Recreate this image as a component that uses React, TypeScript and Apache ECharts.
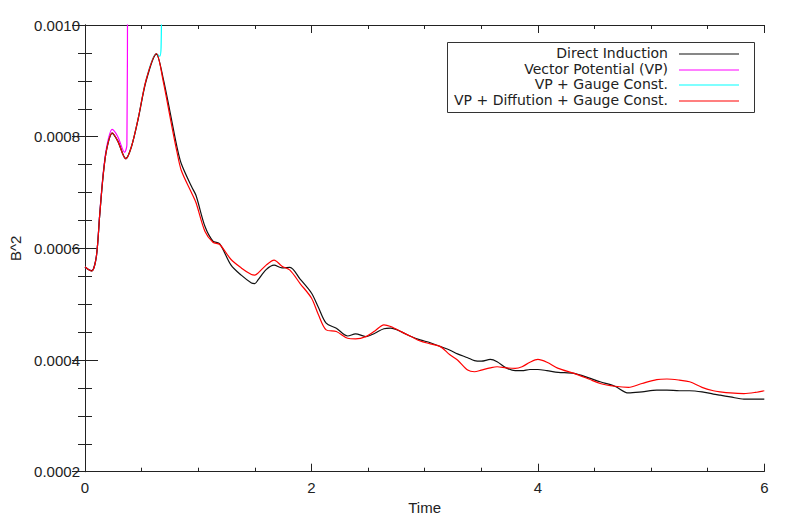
import React, { useEffect, useRef } from "react";
import * as echarts from "echarts";

const time = [0, 0.03, 0.06, 0.1, 0.13, 0.16, 0.19, 0.24, 0.29, 0.36, 0.41, 0.47, 0.54, 0.63, 0.69, 0.76, 0.81, 0.85, 0.94, 0.98, 1.06, 1.13, 1.19, 1.29, 1.38, 1.47, 1.5, 1.53, 1.6, 1.67, 1.74, 1.81, 1.9, 2.0, 2.06, 2.13, 2.22, 2.32, 2.39, 2.48, 2.56, 2.64, 2.7, 2.8, 2.88, 2.96, 3.05, 3.14, 3.22, 3.29, 3.38, 3.44, 3.5, 3.58, 3.64, 3.72, 3.8, 3.86, 3.93, 4.0, 4.08, 4.18, 4.32, 4.45, 4.55, 4.68, 4.8, 4.92, 5.05, 5.14, 5.25, 5.34, 5.45, 5.55, 5.61, 5.7, 5.82, 5.92, 6.0];

const directInduction = [0.000567, 0.000562, 0.00056, 0.000585, 0.00066, 0.00073, 0.000776, 0.000806, 0.000792, 0.000761, 0.000782, 0.000832, 0.0009, 0.000948, 0.000905, 0.000835, 0.000784, 0.000752, 0.000711, 0.000695, 0.000639, 0.000613, 0.000608, 0.00057, 0.000552, 0.000538, 0.000537, 0.000544, 0.000562, 0.00057, 0.000565, 0.000566, 0.000545, 0.00052, 0.000495, 0.000466, 0.000457, 0.000443, 0.000447, 0.000442, 0.000448, 0.000456, 0.000457, 0.00045, 0.000442, 0.000436, 0.000431, 0.000424, 0.000418, 0.000411, 0.000404, 0.000399, 0.000398, 0.000401, 0.000397, 0.000386, 0.000381, 0.000381, 0.000383, 0.000383, 0.000381, 0.000378, 0.000376, 0.000368, 0.000361, 0.000353, 0.000341, 0.000343, 0.000346, 0.000346, 0.000345, 0.000345, 0.000343, 0.000339, 0.000337, 0.000334, 0.00033, 0.00033, 0.00033];

const vpDiffGauge = [0.000567, 0.000562, 0.000559, 0.000585, 0.00066, 0.00073, 0.000776, 0.000807, 0.000792, 0.00076, 0.000782, 0.000833, 0.000902, 0.000949, 0.0009, 0.000826, 0.000775, 0.00074, 0.0007, 0.000682, 0.00063, 0.000611, 0.000607, 0.00058, 0.000565, 0.000553, 0.000552, 0.000556, 0.00057, 0.000579, 0.000568, 0.000561, 0.000537, 0.000511, 0.000482, 0.000454, 0.000451, 0.000439, 0.000438, 0.000442, 0.000452, 0.000463, 0.00046, 0.00045, 0.000442, 0.000434, 0.000429, 0.000424, 0.00041, 0.0004, 0.000382, 0.000379, 0.000382, 0.000386, 0.000388, 0.000386, 0.000385, 0.000388, 0.000396, 0.000401, 0.000396, 0.000385, 0.000376, 0.000366, 0.000358, 0.000353, 0.000351, 0.000358, 0.000365, 0.000366, 0.000364, 0.000361, 0.000351, 0.000345, 0.000343, 0.000341, 0.00034, 0.000342, 0.000345];

const vpTime = [0, 0.03, 0.06, 0.1, 0.13, 0.16, 0.19, 0.24, 0.29, 0.35, 0.37, 0.376, 0.38];
const vectorPotential = [0.000567, 0.000562, 0.00056, 0.000585, 0.000662, 0.000733, 0.00078, 0.000813, 0.0008, 0.000772, 0.000785, 0.0011, 0.0016];

const gaugeTime = [0, 0.03, 0.06, 0.1, 0.13, 0.16, 0.19, 0.24, 0.29, 0.36, 0.41, 0.47, 0.54, 0.63, 0.66, 0.672, 0.678, 0.685];
const vpGauge = [0.000567, 0.000562, 0.000559, 0.000585, 0.00066, 0.00073, 0.000776, 0.000807, 0.000792, 0.00076, 0.000782, 0.000833, 0.000902, 0.000949, 0.000944, 0.00096, 0.0011, 0.0016];

const seriesNames = ["Direct Induction", "Vector Potential (VP)", "VP + Gauge Const.", "VP + Diffution + Gauge Const."];
const seriesColors = ["#111111", "#ff00ff", "#00ffff", "#ff0000"];

const pairs = (xs: number[], ys: number[]) => xs.map((x, i) => [x, ys[i]]);

export default function App() {
  const ref = useRef<HTMLDivElement>(null);
  useEffect(() => {
    if (!ref.current) return;
    const chart = echarts.init(ref.current, undefined, { renderer: "svg" });
    const axisColor = "#222";
    const font = "Liberation Sans";
    const legendX = 668;
    const legendRows = [53, 69, 84, 100];
    const graphic: any[] = [
      {
        type: "rect",
        shape: { x: 447.5, y: 42.5, width: 307, height: 70 },
        style: { fill: "#fff", stroke: "#333", lineWidth: 1 },
        z: 100,
      },
    ];
    seriesNames.forEach((n, i) => {
      graphic.push({
        type: "text",
        x: legendX,
        y: legendRows[i],
        style: { text: n, align: "right", verticalAlign: "middle", fill: "#222", font: `14px 'DejaVu Sans'` },
        z: 101,
      });
      graphic.push({
        type: "line",
        shape: { x1: 679, y1: legendRows[i] + 1, x2: 739, y2: legendRows[i] + 1 },
        style: { stroke: seriesColors[i], lineWidth: 1.2 },
        z: 101,
      });
    });
    const common = { type: "line", showSymbol: false, symbol: "none", smooth: 0.3, clip: true };
    chart.setOption({
      animation: false,
      grid: { left: 83.3, right: 24.7, top: 25, bottom: 53.3 },
      xAxis: [
        {
          type: "value",
          min: 0,
          max: 6,
          interval: 2,
          name: "Time",
          nameLocation: "middle",
          nameGap: 24,
          nameTextStyle: { color: "#222", fontSize: 15, fontFamily: font },
          axisLine: { show: true, lineStyle: { color: axisColor, width: 1 } },
          axisTick: { show: true, inside: true, length: 8, lineStyle: { color: axisColor } },
          minorTick: { show: true, splitNumber: 4, length: 4, lineStyle: { color: axisColor } },
          axisLabel: { color: "#222", fontSize: 15, fontFamily: font, margin: 8 },
          splitLine: { show: false },
        },
        {
          type: "value",
          position: "top",
          min: 0,
          max: 6,
          interval: 2,
          axisLine: { show: true, lineStyle: { color: axisColor, width: 1 } },
          axisTick: { show: true, inside: true, length: 8, lineStyle: { color: axisColor } },
          minorTick: { show: true, splitNumber: 4, length: 4, lineStyle: { color: axisColor } },
          axisLabel: { show: false },
          splitLine: { show: false },
        },
      ],
      yAxis: [
        {
          type: "value",
          min: 0.0002,
          max: 0.001,
          interval: 0.0002,
          name: "B^2",
          nameLocation: "middle",
          nameGap: 62,
          nameTextStyle: { color: "#222", fontSize: 15, fontFamily: font },
          axisLine: { show: true, lineStyle: { color: axisColor, width: 1 } },
          axisTick: { show: true, inside: true, length: 13, lineStyle: { color: axisColor } },
          minorTick: { show: true, splitNumber: 4, length: 7, lineStyle: { color: axisColor } },
          axisLabel: { color: "#222", fontSize: 15, fontFamily: font, margin: 5, formatter: (v: number) => v.toFixed(4) },
          splitLine: { show: false },
        },
        {
          type: "value",
          position: "right",
          min: 0.0002,
          max: 0.001,
          interval: 0.0002,
          axisLine: { show: true, lineStyle: { color: axisColor, width: 1 } },
          axisTick: { show: true, inside: true, length: 13, lineStyle: { color: axisColor } },
          minorTick: { show: true, splitNumber: 4, length: 7, lineStyle: { color: axisColor } },
          axisLabel: { show: false },
          splitLine: { show: false },
        },
      ],
      series: [
        { ...common, name: seriesNames[1], data: pairs(vpTime, vectorPotential), lineStyle: { color: seriesColors[1], width: 1.2 }, itemStyle: { color: seriesColors[1] }, z: 2 },
        { ...common, name: seriesNames[2], data: pairs(gaugeTime, vpGauge), lineStyle: { color: seriesColors[2], width: 1.2 }, itemStyle: { color: seriesColors[2] }, z: 2 },
        { ...common, name: seriesNames[0], data: pairs(time, directInduction), lineStyle: { color: seriesColors[0], width: 1.2 }, itemStyle: { color: seriesColors[0] }, z: 3 },
        { ...common, name: seriesNames[3], data: pairs(time, vpDiffGauge), lineStyle: { color: seriesColors[3], width: 1.2 }, itemStyle: { color: seriesColors[3] }, z: 4 },
      ],
      graphic,
    });
    return () => chart.dispose();
  }, []);
  return <div ref={ref} style={{ width: 789, height: 525, position: "absolute", left: 0, top: 0 }} />;
}
